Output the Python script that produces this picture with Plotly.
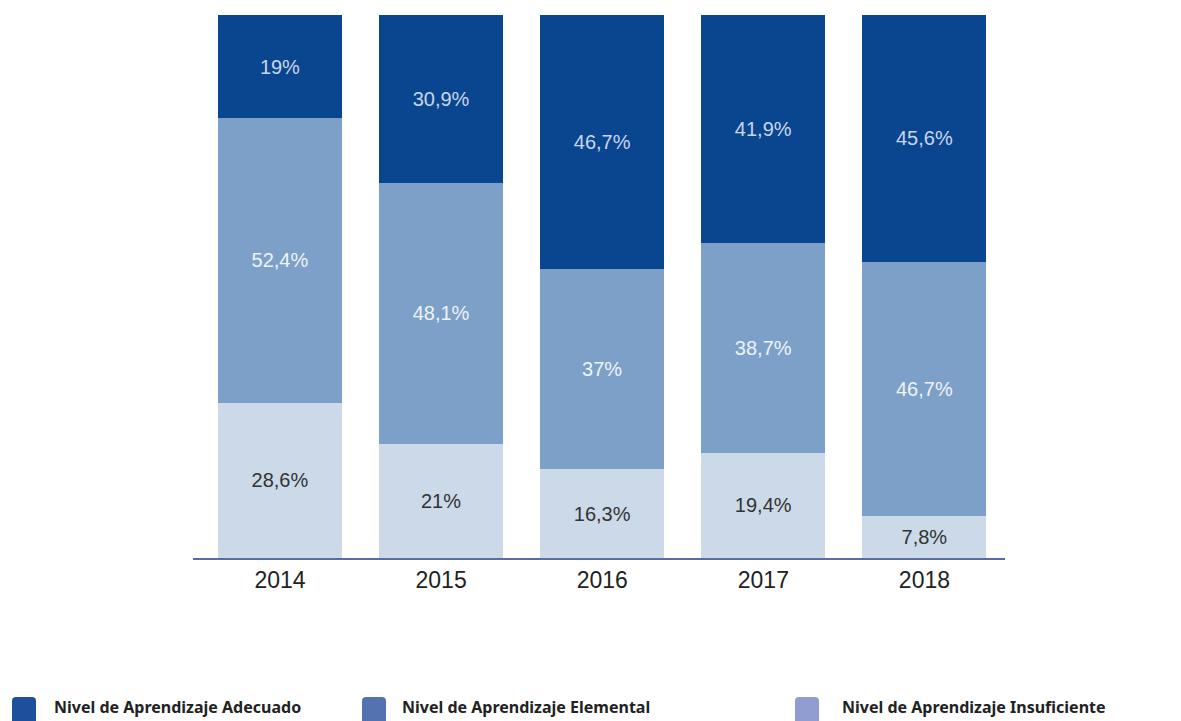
import plotly.graph_objects as go

years = ["2014", "2015", "2016", "2017", "2018"]
insuficiente = [28.6, 21.0, 16.3, 19.4, 7.8]
elemental = [52.4, 48.1, 37.0, 38.7, 46.7]
adecuado = [19.0, 30.9, 46.7, 41.9, 45.6]

insuficiente_lbl = ["28,6%", "21%", "16,3%", "19,4%", "7,8%"]
elemental_lbl = ["52,4%", "48,1%", "37%", "38,7%", "46,7%"]
adecuado_lbl = ["19%", "30,9%", "46,7%", "41,9%", "45,6%"]

legend_names = ["Nivel de Aprendizaje Adecuado", "Nivel de Aprendizaje Elemental",
                "Nivel de Aprendizaje Insuficiente"]
legend_colors = ["#1d4f9c", "#5472b0", "#8f9dd0"]

fig = go.Figure()
series = [
    (insuficiente, insuficiente_lbl, "#cbd9e9", "#333333"),
    (elemental, elemental_lbl, "#7ca0c7", "#eef3f9"),
    (adecuado, adecuado_lbl, "#0a4590", "#c9d6ea"),
]
for vals, lbls, col, tcol in series:
    fig.add_trace(go.Bar(
        x=years, y=vals, text=lbls, textposition="inside", insidetextanchor="middle",
        marker=dict(color=col, line=dict(width=0)),
        textfont=dict(family="Liberation Sans, Arial", size=20, color=tcol),
        showlegend=False, hoverinfo="skip",
    ))

OFF = 8  # page offset of the plot div
fig.update_layout(
    barmode="stack", bargap=0.23,
    width=1181 - OFF, height=721 - OFF,
    margin=dict(l=193 - OFF, r=176, t=15 - OFF, b=163),
    paper_bgcolor="white", plot_bgcolor="white",
    uniformtext=dict(minsize=20, mode="show"),
    xaxis=dict(range=[-0.54, 4.5], showline=True, linecolor="#5b6ba3", linewidth=2,
               ticks="", tickfont=dict(family="Liberation Sans, Arial", size=23, color="#222222"),
               showgrid=False, zeroline=False),
    yaxis=dict(range=[0, 100], visible=False, showgrid=False, zeroline=False),
)

# legend drawn manually (paper coordinates)
W, H = 812.0, 543.0
def px(x):
    return (x - 193) / W
def py(y):
    return (558 - y) / H

marker_x = [12, 362, 795]
text_x = [52, 400, 840]
for name, col, mx, tx in zip(legend_names, legend_colors, marker_x, text_x):
    x0, x1, y0, y1, r = mx, mx + 24, 697, 723, 4
    path = (f"M {px(x0 + r)},{py(y0)} L {px(x1 - r)},{py(y0)} "
            f"Q {px(x1)},{py(y0)} {px(x1)},{py(y0 + r)} L {px(x1)},{py(y1)} "
            f"L {px(x0)},{py(y1)} L {px(x0)},{py(y0 + r)} "
            f"Q {px(x0)},{py(y0)} {px(x0 + r)},{py(y0)} Z")
    fig.add_shape(type="path", xref="paper", yref="paper", path=path,
                  fillcolor=col, line=dict(width=0))
    fig.add_annotation(xref="paper", yref="paper", x=px(tx), y=py(707),
                       xanchor="left", yanchor="middle", showarrow=False,
                       text="<b>" + name + "</b>",
                       font=dict(family="Noto Sans", size=16, color="#222222"))

fig.write_html("out.html")
